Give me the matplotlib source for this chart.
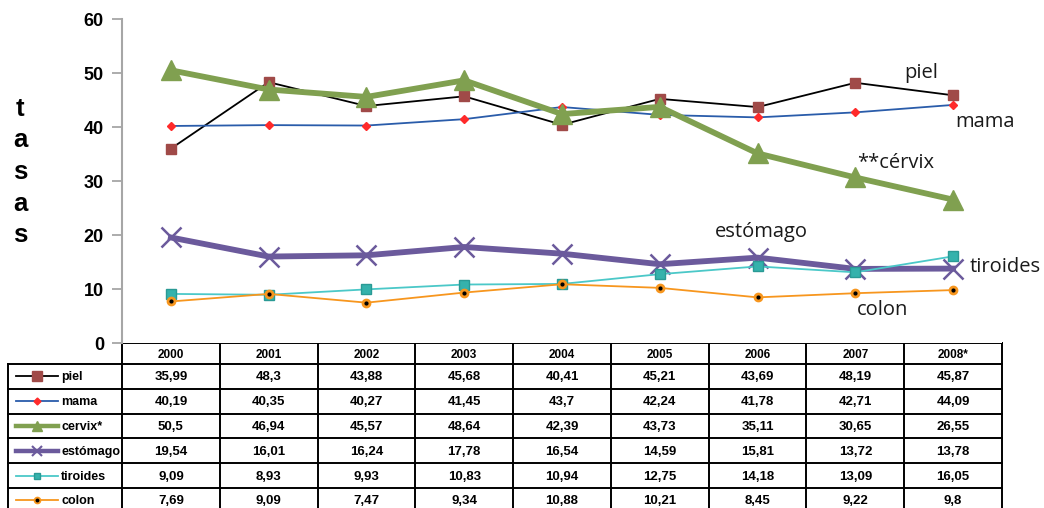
import matplotlib.pyplot as plt

# ---------------- DATA ----------------
years = ["2000", "2001", "2002", "2003", "2004", "2005", "2006", "2007", "2008*"]

piel = [35.99, 48.3, 43.88, 45.68, 40.41, 45.21, 43.69, 48.19, 45.87]
mama = [40.19, 40.35, 40.27, 41.45, 43.7, 42.24, 41.78, 42.71, 44.09]
cervix = [50.5, 46.94, 45.57, 48.64, 42.39, 43.73, 35.11, 30.65, 26.55]
estomago = [19.54, 16.01, 16.24, 17.78, 16.54, 14.59, 15.81, 13.72, 13.78]
tiroides = [9.09, 8.93, 9.93, 10.83, 10.94, 12.75, 14.18, 13.09, 16.05]
colon = [7.69, 9.09, 7.47, 9.34, 10.88, 10.21, 8.45, 9.22, 9.8]

series_names = ["piel", "mama", "cervix*", "estómago", "tiroides", "colon"]
series_values = [piel, mama, cervix, estomago, tiroides, colon]

# ---------------- STYLES ----------------
styles = [
    dict(color="black", lw=1.3, marker="s", ms=7, mfc="#A04A48", mec="#A04A48"),
    dict(color="#2A5CAA", lw=1.3, marker="D", ms=4.5, mfc="#FF2A2A", mec="#FF2A2A"),
    dict(color="#80A050", lw=4.2, marker="^", ms=15, mfc="#80A050", mec="#80A050"),
    dict(color="#6B5A9C", lw=4.2, marker="x", ms=15, mew=1.8, mec="#6B5A9C"),
    dict(color="#4BC8C8", lw=1.3, marker="s", ms=7, mfc="#35B2AC", mec="#2A9A95"),
    dict(color="#F7961E", lw=1.3, marker="o", ms=6, mfc="#F7961E", mec="#F7961E"),
]
key_sizes = [6.5, 3.5, 7, 7, 5, 4.5]

curve_labels = [
    ("piel", 8.17, 50.0),
    ("mama", 8.83, 40.9),
    ("**cérvix", 7.91, 33.3),
    ("estómago", 6.54, 20.6),
    ("tiroides", 9.03, 14.1),
    ("colon", 7.78, 6.1),
]

W, H = 1044, 508
fig = plt.figure(figsize=(W / 100, H / 100), dpi=100)

# plot area in pixel units
x0, x1 = 122, 1002
y_top, y_zero = 19, 343
ax = fig.add_axes([x0 / W, 1 - y_zero / H, (x1 - x0) / W, (y_zero - y_top) / H])

xs = [i + 0.5 for i in range(len(years))]
for vals, st in zip(series_values, styles):
    ax.plot(xs, vals, **st, zorder=3)
# black centre dot on colon markers
ax.plot(xs, colon, ls="none", marker="o", ms=2, color="black", zorder=4)

ax.set_xlim(0, len(years))
ax.set_ylim(0, 60)
ax.set_yticks(range(0, 61, 10))
ax.set_xticks([])
for s in ["top", "right", "bottom"]:
    ax.spines[s].set_visible(False)
ax.spines["left"].set_color("#A6A6A6")
ax.spines["left"].set_linewidth(1.5)
ax.tick_params(axis="y", direction="out", length=7, width=1.3, color="#A6A6A6", pad=6)
for lbl in ax.get_yticklabels():
    lbl.set_fontfamily(["Liberation Sans Narrow", "Liberation Sans"])
    lbl.set_fontweight("bold")
    lbl.set_fontsize(13)

for txt, lx, ly in curve_labels:
    ax.text(lx, ly, txt, ha="center", va="center", fontsize=14.5,
            family="Open Sans", color="#1a1a1a", clip_on=False, zorder=5)

fig.text(20 / W, 1 - 172 / H, "t\na\ns\na\ns", ha="center", va="center",
         fontsize=18.5, fontweight="bold", family="Liberation Sans", linespacing=1.4)

# ---------------- DATA TABLE ----------------
tab = fig.add_axes([0, 0, 1, 1], zorder=-1)
tab.set_xlim(0, W)
tab.set_ylim(H, 0)
tab.axis("off")

narrow = ["Liberation Sans Narrow", "Liberation Sans"]
col_w = (x1 - x0) / len(years)
head_bot = 364
row_h = 24.8
left_x = 8
n_rows = len(series_names)
table_bot = head_bot + n_rows * row_h
lc = dict(color="black", lw=1.4, solid_capstyle="projecting")

# horizontal rules
tab.plot([x0, x1], [y_zero, y_zero], **lc)
for r in range(n_rows + 1):
    yy = head_bot + r * row_h
    tab.plot([left_x, x1], [yy, yy], **lc)
# vertical rules
tab.plot([left_x, left_x], [head_bot, table_bot], **lc)
for c in range(len(years) + 1):
    xx = x0 + c * col_w
    tab.plot([xx, xx], [y_zero, table_bot], **lc)

for c, yr in enumerate(years):
    tab.text(x0 + (c + 0.5) * col_w, (y_zero + head_bot) / 2 + 1, yr, ha="center",
             va="center", fontsize=8.5, fontweight="bold", family=narrow)

for r, (name, vals, st) in enumerate(zip(series_names, series_values, styles)):
    cy = head_bot + (r + 0.5) * row_h
    key = dict(st)
    key["ms"] = key_sizes[r]
    if key.get("lw", 1) > 2:
        key["lw"] = 3.2
    if "mew" in key:
        key["mew"] = 1.5
    line_kw = {k: v for k, v in key.items() if k in ("color", "lw")}
    mark_kw = {k: v for k, v in key.items() if k in ("marker", "ms", "mfc", "mec", "mew")}
    tab.plot([16, 58], [cy, cy], **line_kw)
    tab.plot([37], [cy], ls="none", color=key["color"], **mark_kw)
    if name == "colon":
        tab.plot([37], [cy], ls="none", marker="o", ms=1.8, color="black")
    tab.text(61, cy + 1, name, ha="left", va="center", fontsize=9,
             fontweight="bold", family=narrow)
    for c, v in enumerate(vals):
        tab.text(x0 + (c + 0.5) * col_w, cy + 1, str(v).replace(".", ","),
                 ha="center", va="center", fontsize=9.5, fontweight="bold", family=narrow)

fig.savefig("out.png", dpi=100)
